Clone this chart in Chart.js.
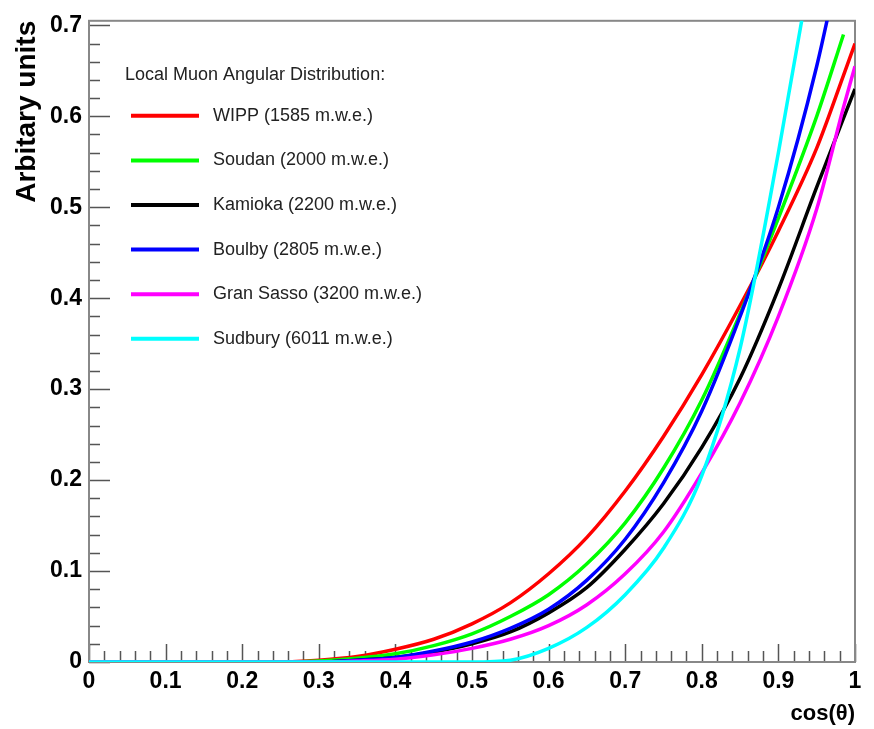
<!DOCTYPE html>
<html>
<head>
<meta charset="utf-8">
<script src="https://cdn.jsdelivr.net/npm/chart.js@4.4.1/dist/chart.umd.min.js"></script>
<style>
  html, body { margin: 0; padding: 0; background: #fff; }
  #wrap { width: 874px; height: 729px; position: relative; }
</style>
</head>
<body>
<div id="wrap"><canvas id="muonChart"></canvas></div>
<script>
// cos(theta) sample points
const cosTheta = [0, 0.25, 0.30, 0.35, 0.40, 0.45, 0.50, 0.55, 0.60, 0.65, 0.70, 0.75, 0.80, 0.85, 0.90, 0.95, 0.985, 1.0];

const wipp      = [0, 0, 0.002, 0.006, 0.014, 0.025, 0.042, 0.065, 0.097, 0.137, 0.188, 0.248, 0.316, 0.392, 0.474, 0.565, 0.645, 0.680];
const soudan    = [0, 0, 0.001, 0.004, 0.009, 0.018, 0.031, 0.050, 0.074, 0.108, 0.153, 0.213, 0.288, 0.383, 0.488, 0.600, 0.690, null];
const kamioka   = [0, 0, 0, 0.002, 0.005, 0.011, 0.020, 0.033, 0.054, 0.082, 0.124, 0.174, 0.236, 0.312, 0.410, 0.522, 0.598, 0.630];
const boulby    = [0, 0, 0, 0.002, 0.005, 0.012, 0.022, 0.037, 0.058, 0.090, 0.135, 0.197, 0.276, 0.380, 0.500, 0.655, 0.790, null];
const granSasso = [0, 0, 0, 0.001, 0.003, 0.008, 0.015, 0.025, 0.040, 0.063, 0.097, 0.143, 0.208, 0.285, 0.380, 0.498, 0.610, 0.655];
const sudbury   = [0, 0, 0, 0, 0, 0, 0, 0.002, 0.015, 0.038, 0.074, 0.125, 0.205, 0.345, 0.560, 0.800, null, null];

const seriesNames = [
  'WIPP (1585 m.w.e.)',
  'Soudan (2000 m.w.e.)',
  'Kamioka (2200 m.w.e.)',
  'Boulby (2805 m.w.e.)',
  'Gran Sasso (3200 m.w.e.)',
  'Sudbury (6011 m.w.e.)'
];
const seriesValues = [wipp, soudan, kamioka, boulby, granSasso, sudbury];
const seriesColors = ['#ff0000', '#00ff00', '#000000', '#0000ff', '#ff00ff', '#00ffff'];

const xTickValues = [0, 0.1, 0.2, 0.3, 0.4, 0.5, 0.6, 0.7, 0.8, 0.9, 1];
const xTickLabels = ['0', '0.1', '0.2', '0.3', '0.4', '0.5', '0.6', '0.7', '0.8', '0.9', '1'];
const yTickValues = [0, 0.1, 0.2, 0.3, 0.4, 0.5, 0.6, 0.7];
const yTickLabels = ['0', '0.1', '0.2', '0.3', '0.4', '0.5', '0.6', '0.7'];

const legendHeader = 'Local Muon Angular Distribution:';

const FONT = '"Liberation Sans", Arial, Helvetica, sans-serif';

// ROOT style frame with ticks pointing inwards
const framePlugin = {
  id: 'frame',
  beforeDatasetsDraw(chart) {
    const { ctx, chartArea: a, scales: { x, y } } = chart;
    ctx.save();
    ctx.strokeStyle = '#555';
    ctx.lineWidth = 1.5;
    ctx.beginPath();
    for (let i = 0; i <= 50; i++) {
      const px = Math.round(x.getPixelForValue(i * 0.02)) + 0.5;
      const len = i % 5 === 0 ? 18 : 11;
      ctx.moveTo(px, a.bottom);
      ctx.lineTo(px, a.bottom - len);
    }
    for (let i = 0; i <= 35; i++) {
      const py = Math.round(y.getPixelForValue(i * 0.02)) + 0.5;
      const len = i % 5 === 0 ? 21 : 11;
      ctx.moveTo(a.left, py);
      ctx.lineTo(a.left + len, py);
    }
    ctx.stroke();
    ctx.strokeStyle = '#888';
    ctx.lineWidth = 2;
    ctx.strokeRect(a.left, a.top, a.right - a.left, a.bottom - a.top);
    ctx.restore();
  }
};

// legend box inside the plot, as in the original
const legendPlugin = {
  id: 'insideLegend',
  afterDraw(chart) {
    const { ctx, chartArea: a } = chart;
    ctx.save();
    ctx.font = '18px ' + FONT;
    ctx.fillStyle = '#222';
    ctx.textBaseline = 'middle';
    ctx.textAlign = 'left';
    ctx.fillText(legendHeader, a.left + 36, a.top + 54);
    chart.data.datasets.forEach((ds, i) => {
      const yy = a.top + 95 + i * 44.6;
      ctx.strokeStyle = ds.borderColor;
      ctx.lineWidth = 4;
      ctx.beginPath();
      ctx.moveTo(a.left + 42, yy);
      ctx.lineTo(a.left + 110, yy);
      ctx.stroke();
      ctx.fillStyle = '#222';
      ctx.fillText(ds.label, a.left + 124, yy);
    });
    ctx.restore();
  }
};

const ctx = document.getElementById('muonChart').getContext('2d');

new Chart(ctx, {
  type: 'line',
  data: {
    datasets: seriesNames.map((name, i) => ({
      label: name,
      data: cosTheta.map((c, j) => ({ x: c, y: seriesValues[i][j] })),
      borderColor: seriesColors[i],
      backgroundColor: seriesColors[i],
      borderWidth: 3.5,
      pointRadius: 0,
      fill: false,
      cubicInterpolationMode: 'monotone',
      spanGaps: false,
      order: seriesNames.length - i
    }))
  },
  options: {
    responsive: true,
    maintainAspectRatio: false,
    animation: false,
    layout: { padding: { top: 13, right: 19, bottom: 0, left: 0 } },
    plugins: {
      legend: { display: false },
      tooltip: { enabled: false }
    },
    scales: {
      x: {
        type: 'linear',
        min: 0,
        max: 1,
        grid: { display: false, drawTicks: false },
        border: { display: false },
        afterBuildTicks: s => { s.ticks = xTickValues.map(v => ({ value: v })); },
        afterFit: s => { s.height = 67; },
        ticks: {
          padding: 6,
          color: '#000',
          autoSkip: false,
          maxRotation: 0,
          font: { family: FONT, size: 23, weight: 'bold' },
          callback: (v, i) => xTickLabels[i]
        },
        title: {
          display: true,
          text: 'cos(θ)',
          align: 'end',
          color: '#000',
          font: { family: FONT, size: 22, weight: 'bold' },
          padding: { top: 0, bottom: 2 }
        }
      },
      y: {
        type: 'linear',
        min: 0,
        max: 0.705,
        grid: { display: false, drawTicks: false },
        border: { display: false },
        afterBuildTicks: s => { s.ticks = yTickValues.map(v => ({ value: v })); },
        afterFit: s => { s.width = 89; },
        ticks: {
          padding: 7,
          color: '#000',
          font: { family: FONT, size: 23, weight: 'bold' },
          callback: (v, i) => yTickLabels[i]
        },
        title: {
          display: true,
          text: 'Arbitary units',
          align: 'end',
          color: '#000',
          font: { family: FONT, size: 28, weight: 'bold' },
          padding: { top: 10, bottom: 0 }
        }
      }
    }
  },
  plugins: [framePlugin, legendPlugin]
});
</script>
</body>
</html>
